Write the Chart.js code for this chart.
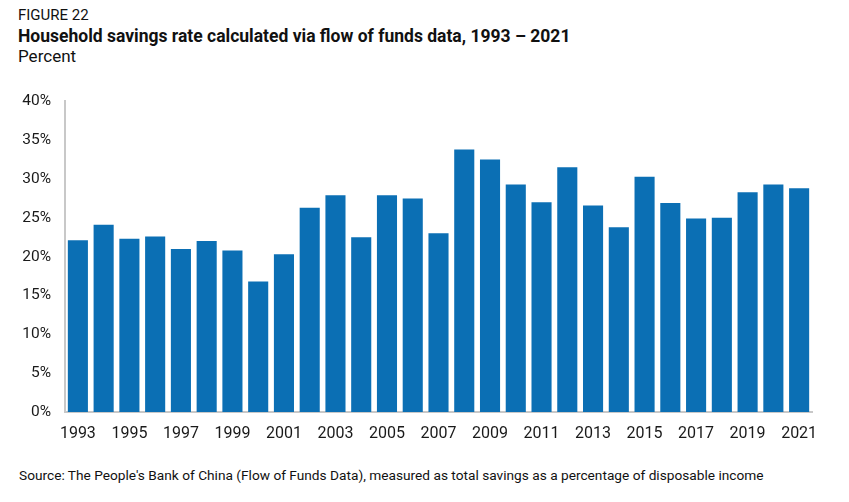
<!DOCTYPE html>
<html>
<head>
<meta charset="utf-8">
<script src="https://cdn.jsdelivr.net/npm/chart.js@4.4.0/dist/chart.umd.min.js"></script>
<style>
  html, body { margin: 0; padding: 0; background: #fff; }
  body { width: 849px; height: 502px; position: relative; overflow: hidden; font-family: Roboto, "Noto Sans", sans-serif; color: #111; }
  .fig { position: absolute; left: 18px; top: 6px; font-size: 15px; }
  .title { position: absolute; left: 18px; top: 26px; font-size: 17.5px; font-weight: bold; }
  .unit { position: absolute; left: 18px; top: 46px; font-size: 17px; }
  .source { position: absolute; left: 19px; top: 467px; font-size: 13.7px; }
  .wrap { position: absolute; left: 0; top: 78px; width: 849px; height: 373px; }
</style>
</head>
<body>
<div class="fig">FIGURE 22</div>
<div class="title">Household savings rate calculated via flow of funds data, 1993 – 2021</div>
<div class="unit">Percent</div>
<div class="wrap"><canvas id="myChart"></canvas></div>
<div class="source">Source: The People's Bank of China (Flow of Funds Data), measured as total savings as a percentage of disposable income</div>
<script>
// years on the x axis
const years = ["1993", "1994", "1995", "1996", "1997", "1998", "1999", "2000", "2001", "2002",
  "2003", "2004", "2005", "2006", "2007", "2008", "2009", "2010", "2011", "2012",
  "2013", "2014", "2015", "2016", "2017", "2018", "2019", "2020", "2021"];

// household savings rate, percent
const savingsRate = [22.1, 24.1, 22.3, 22.6, 21.0, 22.0, 20.8, 16.8, 20.3, 26.3,
  27.9, 22.5, 27.9, 27.5, 23.0, 33.8, 32.5, 29.3, 27.0, 31.5,
  26.6, 23.8, 30.3, 26.9, 24.9, 25.0, 28.3, 29.3, 28.8];

// y axis ticks
const yTicks = [0, 5, 10, 15, 20, 25, 30, 35, 40];

const ctx = document.getElementById("myChart").getContext("2d");

new Chart(ctx, {
  type: "bar",
  data: {
    labels: years,
    datasets: [
      {
        label: "Savings rate",
        data: savingsRate,
        backgroundColor: "#0b6fb4",
        borderWidth: 0,
        categoryPercentage: 1.0,
        barPercentage: 0.78
      }
    ]
  },
  options: {
    responsive: true,
    maintainAspectRatio: false,
    animation: false,
    layout: { padding: { top: 10, right: 37, left: 0, bottom: 0 } },
    plugins: {
      legend: { display: false },
      tooltip: { enabled: false }
    },
    scales: {
      x: {
        grid: { display: false, drawTicks: false },
        border: { display: true, color: "#c8c8c8", width: 2 },
        ticks: {
          color: "#1a1a1a",
          font: { family: "Roboto", size: 16 },
          padding: 12,
          maxRotation: 0,
          autoSkip: false,
          callback: function (val, i) { return i % 2 === 0 ? years[i] : ""; }
        },
        afterFit: function (scale) { scale.height = 39; }
      },
      y: {
        min: 0,
        max: 40,
        grid: { display: false, drawTicks: false },
        border: { display: true, color: "#c8c8c8", width: 2 },
        afterBuildTicks: function (scale) { scale.ticks = yTicks.map(v => ({ value: v })); },
        ticks: {
          color: "#1a1a1a",
          font: { family: "Roboto", size: 15.5 },
          padding: 14,
          callback: v => v + "%"
        },
        afterFit: function (scale) { scale.width = 65; }
      }
    }
  }
});
</script>
</body>
</html>
